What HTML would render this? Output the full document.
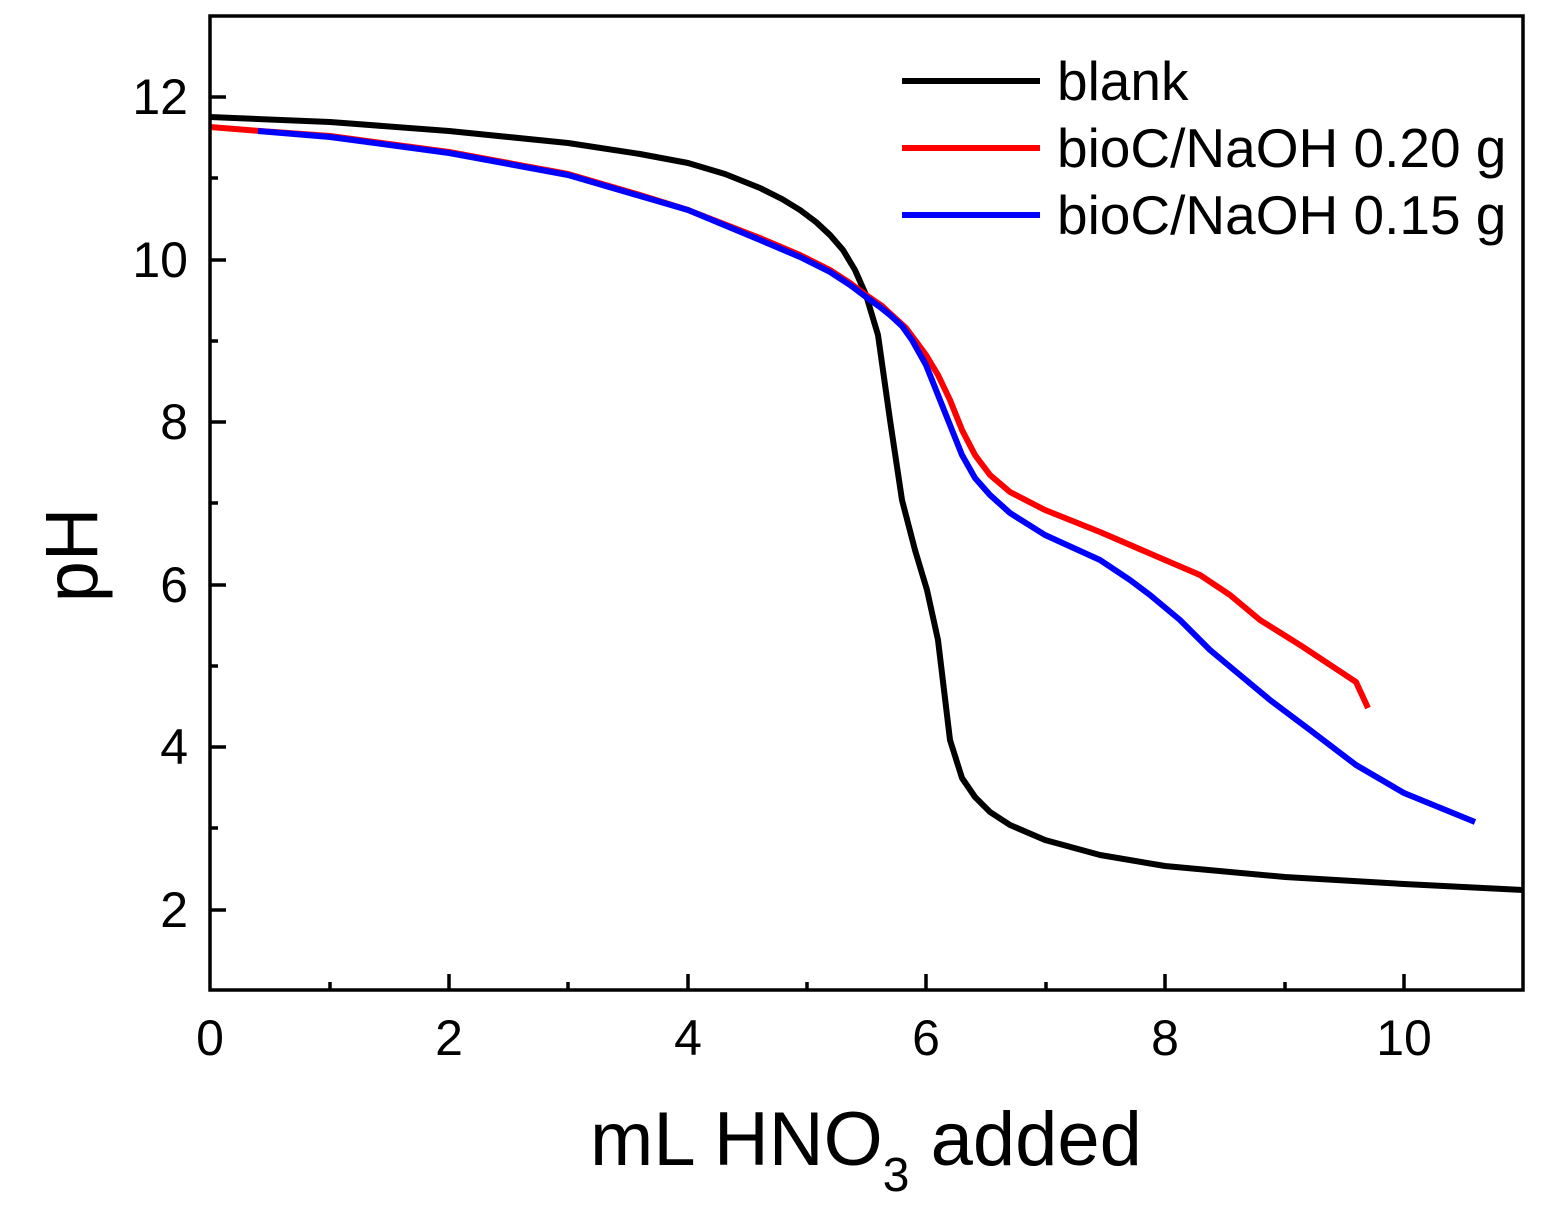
<!DOCTYPE html>
<html><head><meta charset="utf-8"><style>
html,body{margin:0;padding:0;background:#fff;}
svg text{font-family:"Liberation Sans",sans-serif;fill:#000;}
</style></head><body>
<svg width="1549" height="1206" viewBox="0 0 1549 1206" xmlns="http://www.w3.org/2000/svg">
<rect x="0" y="0" width="1549" height="1206" fill="#fff"/>
<g fill="none" stroke-width="6" stroke-linejoin="round" stroke-linecap="butt">
<polyline stroke="#000" points="210,117 330,122 449,131 568,143 640,154 688,163 725,174 760,188 782,199 800,210 816,222 830,235 843,250 855,270 866,295 878,335 890,420 902,500 915,550 927,590 938,640 950,740 962,778 975,797 990,812 1010,825 1045,840 1100,855 1165,866 1285,877 1404,884 1523,890"/>
<polyline stroke="#ff0000" points="210,127 260,131 330,136 449,152 568,174 640,195 688,210 760,238 800,255 830,270 850,283 866,295 882,306 895,318 906,328 915,340 926,355 938,375 950,400 962,430 975,455 990,475 1010,492 1045,510 1100,532 1165,560 1200,575 1230,595 1260,620 1300,645 1356,682 1368,708"/>
<polyline stroke="#0000ff" points="258,131 330,137 449,153 568,175 640,196 688,210 760,240 800,257 830,272 850,285 866,297 880,307 890,315 902,326 912,340 926,365 938,395 950,425 962,455 975,478 990,495 1010,513 1045,535 1100,560 1130,580 1150,595 1180,620 1210,650 1240,675 1270,700 1310,730 1356,765 1404,793 1475,822"/>
</g>
<rect x="210" y="16" width="1313" height="974" fill="none" stroke="#000" stroke-width="3.5"/>
<g stroke="#000" stroke-width="3.5">
<line x1="449" y1="990" x2="449" y2="974"/><line x1="688" y1="990" x2="688" y2="974"/><line x1="926" y1="990" x2="926" y2="974"/><line x1="1165" y1="990" x2="1165" y2="974"/><line x1="1404" y1="990" x2="1404" y2="974"/>
<line x1="330" y1="990" x2="330" y2="982"/><line x1="568" y1="990" x2="568" y2="982"/><line x1="807" y1="990" x2="807" y2="982"/><line x1="1046" y1="990" x2="1046" y2="982"/><line x1="1285" y1="990" x2="1285" y2="982"/>
<line x1="210" y1="97" x2="226" y2="97"/><line x1="210" y1="260" x2="226" y2="260"/><line x1="210" y1="422" x2="226" y2="422"/><line x1="210" y1="585" x2="226" y2="585"/><line x1="210" y1="747" x2="226" y2="747"/><line x1="210" y1="910" x2="226" y2="910"/>
<line x1="210" y1="178" x2="218" y2="178"/><line x1="210" y1="341" x2="218" y2="341"/><line x1="210" y1="503" x2="218" y2="503"/><line x1="210" y1="666" x2="218" y2="666"/><line x1="210" y1="828" x2="218" y2="828"/>
</g>
<g font-size="50" text-anchor="middle">
<text x="210" y="1055">0</text><text x="449" y="1055">2</text><text x="688" y="1055">4</text><text x="926" y="1055">6</text><text x="1165" y="1055">8</text><text x="1404" y="1055">10</text>
</g>
<g font-size="50" text-anchor="end">
<text x="188" y="114">12</text><text x="188" y="277">10</text><text x="188" y="439">8</text><text x="188" y="602">6</text><text x="188" y="764">4</text><text x="188" y="927">2</text>
</g>
<text x="866" y="1165" font-size="76" text-anchor="middle">mL HNO<tspan font-size="48" dy="26">3</tspan><tspan dy="-26"> added</tspan></text>
<text transform="translate(97,555) rotate(-90)" font-size="74" text-anchor="middle">pH</text>
<g stroke-width="6">
<line x1="902" y1="81" x2="1040" y2="81" stroke="#000"/>
<line x1="902" y1="148" x2="1040" y2="148" stroke="#ff0000"/>
<line x1="902" y1="215" x2="1040" y2="215" stroke="#0000ff"/>
</g>
<g font-size="55">
<text x="1057" y="100">blank</text>
<text x="1057" y="167">bioC/NaOH 0.20 g</text>
<text x="1057" y="234">bioC/NaOH 0.15 g</text>
</g>
</svg>
</body></html>
